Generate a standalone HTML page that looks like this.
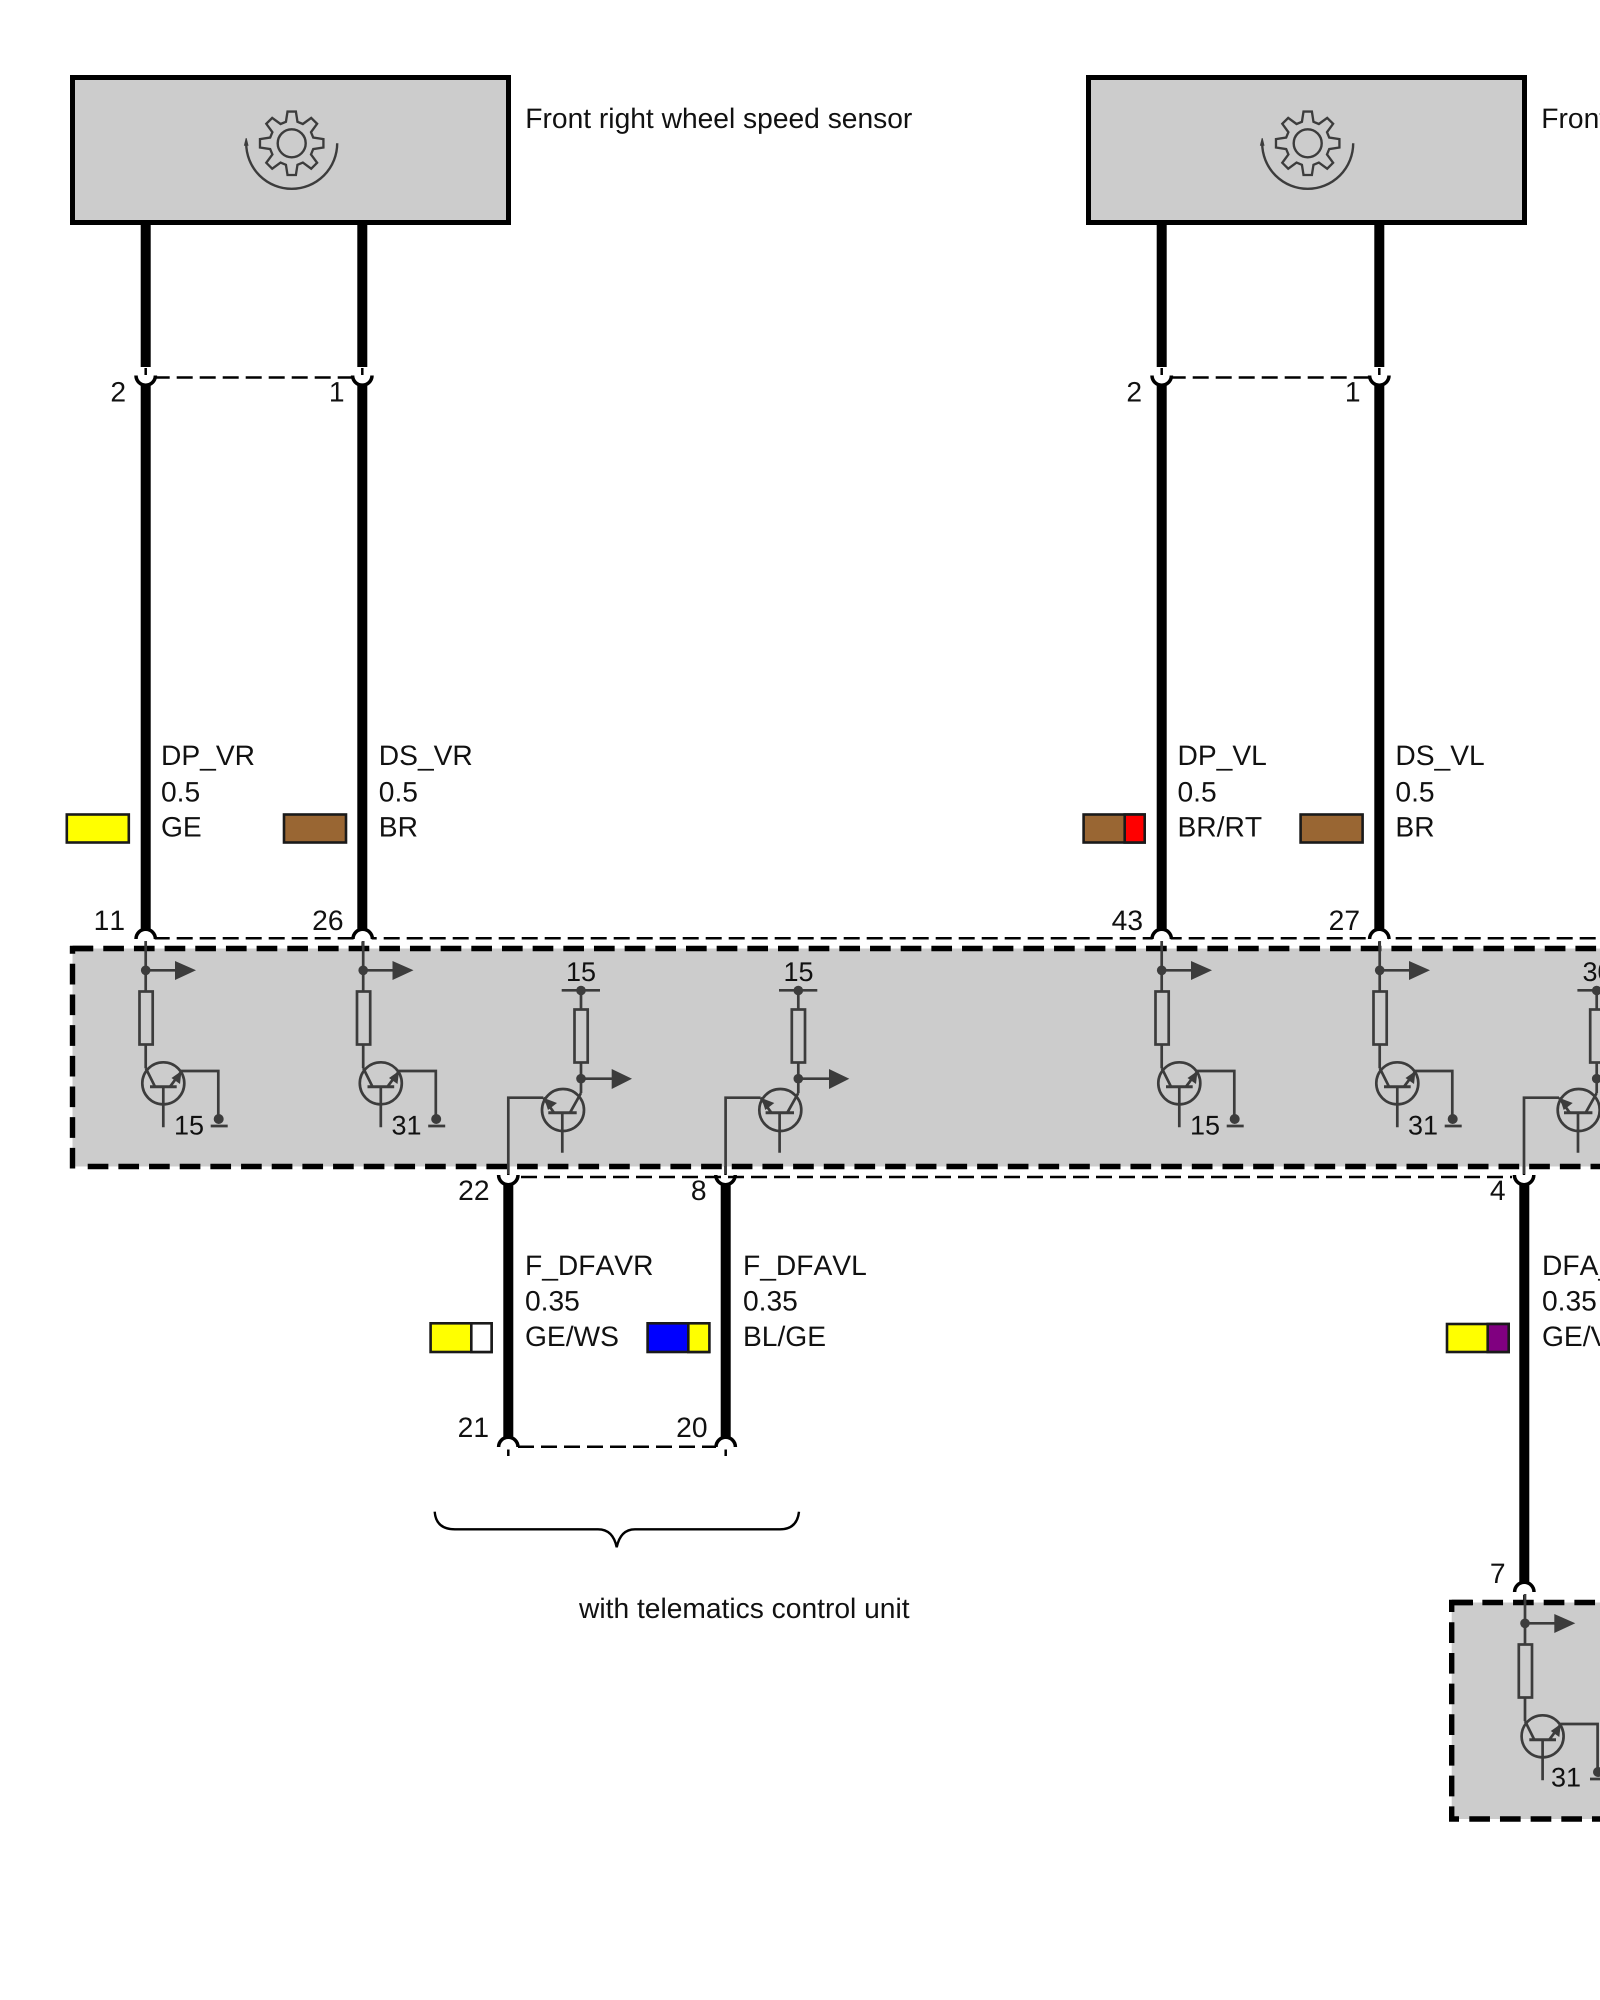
<!DOCTYPE html>
<html><head><meta charset="utf-8"><style>
html,body{margin:0;padding:0;background:#fff;width:1600px;height:2000px;overflow:hidden}
svg{display:block}
text{font-family:"Liberation Sans",Arial,sans-serif;font-size:28.2px;fill:#111;text-rendering:geometricPrecision;font-kerning:none}
text.n{font-size:27px}
.e{text-anchor:end}
.c{fill:none;stroke:#3c3c3c;stroke-width:2.7}
.d{fill:#3c3c3c}
.conn{stroke:#000;stroke-width:2.5;stroke-dasharray:16 7;fill:none}
.arc{fill:none;stroke:#000;stroke-width:3.5}
.box{stroke:#000;stroke-width:5.4;stroke-dasharray:20.67 10;fill:none}
.sw{stroke:#1a1a1a;stroke-width:2.6}
</style></head><body>
<svg xmlns="http://www.w3.org/2000/svg" width="1600" height="2000" viewBox="0 0 1600 2000">
<defs>
<g id="gear" fill="none" stroke="#3c3c3c" stroke-width="2.4">
<g transform="scale(.97)"><path d="M-5.95-22.2L-4.31-32.7L4.31-32.7L5.95-22.2L11.5-19.9L20.1-26.2L26.2-20.1L19.9-11.5L22.2-5.95L32.7-4.31L32.7 4.31L22.2 5.95L19.9 11.5L26.2 20.1L20.1 26.2L11.5 19.9L5.95 22.2L4.31 32.7L-4.31 32.7L-5.95 22.2L-11.5 19.9L-20.1 26.2L-26.2 20.1L-19.9 11.5L-22.2 5.95L-32.7 4.31L-32.7-4.31L-22.2-5.95L-19.9-11.5L-26.2-20.1L-20.1-26.2L-11.5-19.9Z"/></g>
<circle r="14"/>
<path d="M45.5 0A45.5 45.5 0 0 1-45.5 0"/>
<path d="M-45.5-5L-43.8 2L-47.2 2Z" fill="#3c3c3c" stroke-width="1"/>
</g>
<g id="qa">
<path class="c" d="M145.7 941V991M145.7 1045V1068M145.7 970.3H176"/>
<circle class="d" cx="145.7" cy="970.3" r="4.8"/>
<path class="d" d="M175 961L196 970.3L175 980Z"/>
<rect class="c" x="139.5" y="991.5" width="13.2" height="53"/>
<circle class="c" cx="163.3" cy="1083.3" r="21"/>
<path class="c" style="stroke-width:3" d="M150 1086.7H176.7"/>
<path class="c" d="M163.3 1086.7V1127.3M145.7 1068L155 1086.7M170 1086.7L181.7 1071H218.3V1118"/>
<path class="d" d="M181.5 1071L180 1084L171.5 1078Z"/>
<circle class="d" cx="218.7" cy="1119" r="5"/>
<path class="c" d="M210.7 1126H227.7"/>
</g>
<g id="qb">
<path class="c" d="M508.3 1174V1097.7H543.3M581 1093V1063M581 1009V990.3M561.7 990.3H600M581 1078.7H612"/>
<circle class="d" cx="581" cy="990.5" r="4.8"/>
<circle class="d" cx="581" cy="1078.7" r="4.8"/>
<path class="d" d="M611.7 1069L632 1078.7L611.7 1089Z"/>
<rect class="c" x="574.5" y="1009.5" width="13.2" height="53"/>
<circle class="c" cx="563" cy="1110" r="21"/>
<path class="c" style="stroke-width:3" d="M548.3 1112.7H576.7"/>
<path class="c" d="M562.3 1112.7V1152.7M554 1112.7L543.3 1097.7M570 1112.7L581 1093"/>
<path class="d" d="M544 1098L557 1103L548 1110Z"/>
</g>
</defs>

<!-- sensors -->
<rect x="72.5" y="77.5" width="436" height="145" fill="#ccc" stroke="#000" stroke-width="5"/>
<rect x="1088.5" y="77.5" width="436" height="145" fill="#ccc" stroke="#000" stroke-width="5"/>
<use href="#gear" transform="translate(291.7 143.3)"/>
<use href="#gear" transform="translate(1307.7 143.3)"/>
<text x="525.3" y="127.9">Front right wheel speed sensor</text>
<text x="1541.3" y="127.9">Front left wheel speed sensor</text>

<!-- wires -->
<g fill="#000">
<rect x="140.7" y="225" width="10" height="142"/><rect x="357.3" y="225" width="10" height="142"/>
<rect x="1156.7" y="225" width="10" height="142"/><rect x="1374.3" y="225" width="10" height="142"/>
<rect x="140.7" y="384" width="10" height="548"/><rect x="357.3" y="384" width="10" height="548"/>
<rect x="1156.7" y="384" width="10" height="548"/><rect x="1374.3" y="384" width="10" height="548"/>
<rect x="503.3" y="1184" width="10" height="254"/><rect x="720.7" y="1184" width="10" height="254"/>
<rect x="1519.3" y="1184" width="10" height="400"/>
</g>

<!-- connectors y=377 -->
<path class="conn" d="M153.7 377.5H354"/>
<path class="conn" d="M1169.7 377.5H1371"/>
<g class="arc">
<path d="M136 375.5A9.7 9.7 0 0 0 155.4 375.5"/><path d="M352.6 375.5A9.7 9.7 0 0 0 372 375.5"/>
<path d="M1152 375.5A9.7 9.7 0 0 0 1171.4 375.5"/><path d="M1369.6 375.5A9.7 9.7 0 0 0 1389 375.5"/>
</g>
<path stroke="#000" stroke-width="2.5" d="M145.7 368V375M362.3 368V375M1161.7 368V375M1379.3 368V375"/>

<!-- connector y=938 -->
<path class="conn" d="M153.7 938.3H1600"/>
<g fill="#fff"><circle cx="145.7" cy="939" r="9"/><circle cx="362.7" cy="939" r="9"/><circle cx="1161.7" cy="939" r="9"/><circle cx="1379.3" cy="939" r="9"/></g>
<g class="arc">
<path d="M136 939A9.7 9.7 0 0 1 155.4 939"/><path d="M353 939A9.7 9.7 0 0 1 372.4 939"/>
<path d="M1152 939A9.7 9.7 0 0 1 1171.4 939"/><path d="M1369.6 939A9.7 9.7 0 0 1 1389 939"/>
</g>

<!-- main control unit -->
<rect x="72.5" y="948.5" width="1540" height="218" fill="#ccc"/>
<line class="box" x1="72.6" y1="948.5" x2="1600" y2="948.5"/>
<line class="box" x1="87.7" y1="1166.5" x2="1600" y2="1166.5"/>
<line class="box" x1="72.5" y1="1168.5" x2="72.5" y2="946"/>
<path stroke="#000" stroke-width="5.4" d="M70 948.5H93"/>
<path stroke="#000" stroke-width="2.5" d="M145.7 941.5V950M362.7 941.5V950M1161.7 941.5V950M1379.3 941.5V950M508.3 1166V1175M725.5 1166V1175M1524 1166V1175"/>

<use href="#qa"/>
<use href="#qa" transform="translate(217.5 0)"/>
<use href="#qa" transform="translate(1016 0)"/>
<use href="#qa" transform="translate(1234 0)"/>
<use href="#qb"/>
<use href="#qb" transform="translate(217.3 0)"/>
<use href="#qb" transform="translate(1015.7 0)"/>

<text class="n" x="174" y="1134.5">15</text>
<text class="n" x="391.5" y="1134.5">31</text>
<text class="n" x="1190" y="1134.5">15</text>
<text class="n" x="1408" y="1134.5">31</text>
<text class="n" x="566" y="981">15</text>
<text class="n" x="783.5" y="981">15</text>
<text class="n" x="1582.5" y="981">30</text>

<!-- connector y=1177 -->
<path class="conn" d="M521 1177H1512"/>
<g class="arc">
<path d="M498.6 1175A9.7 9.7 0 0 0 518 1175"/><path d="M715.8 1175A9.7 9.7 0 0 0 735.2 1175"/><path d="M1514.4 1175A9.7 9.7 0 0 0 1533.8 1175"/>
</g>

<!-- connector y=1447 -->
<path class="conn" d="M518 1446.7H716"/>
<g class="arc">
<path d="M498.6 1447A9.7 9.7 0 0 1 518 1447"/><path d="M716 1447A9.7 9.7 0 0 1 735.4 1447"/>
</g>
<path stroke="#000" stroke-width="2.5" d="M508.3 1449.5V1456M725.7 1449.5V1456"/>

<!-- small control unit -->
<path class="arc" d="M1514.6 1592A9.7 9.7 0 0 1 1534 1592"/>
<rect x="1451.7" y="1602.5" width="160" height="216.5" fill="#ccc"/>
<line class="box" x1="1451.7" y1="1602.5" x2="1600" y2="1602.5"/>
<line class="box" x1="1469.3" y1="1819" x2="1600" y2="1819"/>
<line class="box" x1="1451.7" y1="1622.3" x2="1451.7" y2="1821.5"/>
<path stroke="#000" stroke-width="5.4" d="M1449 1602.5H1473M1451.7 1600V1612M1449 1819H1459"/>
<path stroke="#000" stroke-width="2.5" d="M1524.3 1595V1605"/>
<use href="#qa" transform="translate(1379.3 653)"/>
<text class="n" x="1551" y="1786.5">31</text>

<!-- swatches -->
<rect class="sw" x="66.8" y="814.5" width="62" height="28" fill="#ff0"/>
<rect class="sw" x="284" y="814.5" width="62" height="28" fill="#963"/>
<rect class="sw" x="1083.6" y="814.5" width="61" height="28" fill="#963"/>
<rect class="sw" x="1124.7" y="814.5" width="20" height="28" fill="#f00"/>
<rect class="sw" x="1300.6" y="814.5" width="62" height="28" fill="#963"/>
<rect class="sw" x="430.6" y="1323.3" width="61" height="28.7" fill="#ff0"/>
<rect class="sw" x="471.3" y="1323.3" width="20.3" height="28.7" fill="#fff"/>
<rect class="sw" x="647.6" y="1323.3" width="61.4" height="28.7" fill="#00f"/>
<rect class="sw" x="688.3" y="1323.3" width="21.1" height="28.7" fill="#ff0"/>
<rect class="sw" x="1447" y="1324" width="61.7" height="28" fill="#ff0"/>
<rect class="sw" x="1487.7" y="1324" width="21" height="28" fill="#800080"/>

<!-- wire labels -->
<text x="161" y="765">DP_VR</text><text x="161" y="801.7">0.5</text><text x="161" y="836.7">GE</text>
<text x="378.8" y="765">DS_VR</text><text x="378.8" y="801.7">0.5</text><text x="378.8" y="836.7">BR</text>
<text x="1177.5" y="765">DP_VL</text><text x="1177.5" y="801.7">0.5</text><text x="1177.5" y="836.7">BR/RT</text>
<text x="1395.4" y="765">DS_VL</text><text x="1395.4" y="801.7">0.5</text><text x="1395.4" y="836.7">BR</text>
<text x="525" y="1275">F_DFAVR</text><text x="525" y="1310.7">0.35</text><text x="525" y="1346">GE/WS</text>
<text x="743" y="1275">F_DFAVL</text><text x="743" y="1310.7">0.35</text><text x="743" y="1346">BL/GE</text>
<text x="1542" y="1275">DFA_HL</text><text x="1542" y="1310.7">0.35</text><text x="1542" y="1346">GE/VI</text>

<!-- pin labels -->
<text class="e" x="126" y="401.7">2</text><text class="e" x="344.5" y="401.7">1</text>
<text class="e" x="1142" y="401.7">2</text><text class="e" x="1360.5" y="401.7">1</text>
<text class="e" x="125" y="930">11</text><text class="e" x="343.5" y="930">26</text>
<text class="e" x="1143" y="930">43</text><text class="e" x="1360" y="930">27</text>
<text class="e" x="489.5" y="1200">22</text><text class="e" x="706.5" y="1200">8</text><text class="e" x="1505.5" y="1200">4</text>
<text class="e" x="489" y="1437">21</text><text class="e" x="707.5" y="1437">20</text>
<text class="e" x="1505.5" y="1583">7</text>

<!-- brace -->
<path fill="none" stroke="#000" stroke-width="2.4" d="M434.7 1511.7Q436 1529.3 455 1529.3H598Q613 1529.3 616.7 1547.3Q620.5 1529.3 635 1529.3H780Q797 1529.3 799 1511.7"/>
<text x="579" y="1617.9">with telematics control unit</text>
</svg>
</body></html>
